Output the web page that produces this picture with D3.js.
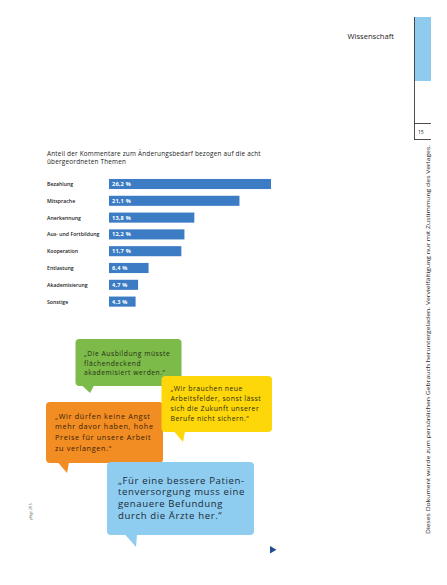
<!DOCTYPE html>
<html>
<head>
<meta charset="utf-8">
<script src="https://cdn.jsdelivr.net/npm/d3@7"></script>
<style>
  html, body { margin: 0; padding: 0; background: #fff; }
  svg { display: block; }
  text { font-family: "Open Sans", "DejaVu Sans", sans-serif; }
</style>
</head>
<body>
<script>
// ---- data ----
const categories = ["Bezahlung", "Mitsprache", "Anerkennung", "Aus- und Fortbildung", "Kooperation", "Entlastung", "Akademisierung", "Sonstige"];
const values = [26.2, 21.1, 13.8, 12.2, 11.7, 6.4, 4.7, 4.3];
const titleLines = ["Anteil der Kommentare zum Änderungsbedarf bezogen auf die acht", "übergeordneten Themen"];
const quoteGreen = ["„Die Ausbildung müsste", "flächendeckend", "akademisiert werden.“"];
const quoteYellow = ["„Wir brauchen neue", "Arbeitsfelder, sonst lässt", "sich die Zukunft unserer", "Berufe nicht sichern.“"];
const quoteOrange = ["„Wir dürfen keine Angst", "mehr davor haben, hohe", "Preise für unsere Arbeit", "zu verlangen.“"];
const quoteBlue = ["„Für eine bessere Patien-", "tenversorgung muss eine", "genauere Befundung", "durch die Ärzte her.“"];
const sectionTitle = "Wissenschaft";
const pageNumber = "15";
const sideNote = "Dieses Dokument wurde zum persönlichen Gebrauch heruntergeladen. Vervielfältigung nur mit Zustimmung des Verlages.";
const footNote = "pflege 2/15";

const W = 447, H = 585;
const svg = d3.select("body").append("svg").attr("width", W).attr("height", H);

// ---- header / page furniture ----
svg.append("rect").attr("x", 414.5).attr("y", 17).attr("width", 16.5).attr("height", 64).attr("fill", "#8fcbef");
svg.append("line").attr("x1", 414.5).attr("x2", 414.5).attr("y1", 17).attr("y2", 140).attr("stroke", "#222").attr("stroke-width", 0.8);
svg.append("line").attr("x1", 414.5).attr("x2", 431).attr("y1", 123.5).attr("y2", 123.5).attr("stroke", "#222").attr("stroke-width", 0.8);
svg.append("line").attr("x1", 414.5).attr("x2", 431).attr("y1", 139.5).attr("y2", 139.5).attr("stroke", "#222").attr("stroke-width", 0.8);
svg.append("text").attr("x", 418).attr("y", 133.5).attr("font-size", 5).attr("fill", "#222").text(pageNumber);
svg.append("text").attr("x", 394).attr("y", 39).attr("text-anchor", "end").attr("font-size", 7.6).attr("fill", "#222").text(sectionTitle);

svg.append("text").attr("transform", "translate(429.5,534) rotate(-90)")
  .attr("font-size", 5.6).attr("fill", "#222").attr("textLength", 389).attr("lengthAdjust", "spacingAndGlyphs").text(sideNote);
svg.append("text").attr("transform", "translate(32,520) rotate(-90)")
  .attr("font-size", 3.2).attr("fill", "#555").text(footNote);

// ---- title ----
svg.append("g").selectAll("text").data(titleLines).join("text")
  .attr("x", 47).attr("y", (d, i) => 155.5 + i * 8.5)
  .attr("font-size", 6.4).attr("letter-spacing", 0.2).attr("fill", "#222").text(d => d);

// ---- bar chart ----
const x = d3.scaleLinear().domain([0, 26.2]).range([109, 271]);
const y = d3.scaleBand().domain(categories).range([175.6, 310]).paddingInner(0.4).paddingOuter(0.2);
const fmt = v => d3.format(".1f")(v).replace(".", ",") + " %";

const g = svg.append("g");
g.selectAll("rect.bar").data(values).join("rect").attr("class", "bar")
  .attr("x", x(0)).attr("y", (d, i) => y(categories[i]))
  .attr("width", d => x(d) - x(0)).attr("height", y.bandwidth())
  .attr("fill", "#3b7cc4");
g.selectAll("text.val").data(values).join("text").attr("class", "val")
  .attr("x", x(0) + 3).attr("y", (d, i) => y(categories[i]) + y.bandwidth() / 2 + 2)
  .attr("font-size", 5.6).attr("font-weight", "bold").attr("letter-spacing", 0.2).attr("fill", "#fff").text(d => fmt(d));
g.selectAll("text.cat").data(categories).join("text").attr("class", "cat")
  .attr("x", 47).attr("y", d => y(d) + y.bandwidth() / 2 + 2)
  .attr("font-size", 5.2).attr("font-weight", "600").attr("fill", "#222").text(d => d);

// ---- speech bubbles ----
function bubble(b) {
  const grp = svg.append("g");
  grp.append("rect").attr("x", b.x).attr("y", b.y).attr("width", b.w).attr("height", b.h)
    .attr("rx", 4).attr("fill", b.color);
  const bot = b.y + b.h - 0.5;
  grp.append("path").attr("d", `M${b.tx},${bot} L${b.tx + b.tw},${bot} L${b.ax},${b.ay} Z`).attr("fill", b.color);
  grp.selectAll("text").data(b.lines).join("text")
    .attr("x", b.textX).attr("y", (d, i) => b.textY + i * b.lh)
    .attr("font-size", b.fs).attr("letter-spacing", b.ls).attr("fill", b.tc).text(d => d);
}
bubble({x: 75.5, y: 339, w: 106, h: 47, color: "#7cba4a", tx: 82, tw: 12, ax: 90, ay: 393,
  lines: quoteGreen, textX: 84, textY: 356, lh: 9.6, fs: 6.7, ls: 0.55, tc: "#263012"});
bubble({x: 46, y: 402, w: 117, h: 61, color: "#f28d24", tx: 58, tw: 11, ax: 67, ay: 473,
  lines: quoteOrange, textX: 55, textY: 418.5, lh: 10.8, fs: 7.3, ls: 0.65, tc: "#3a1e05"});
bubble({x: 161.5, y: 376, w: 110.5, h: 56, color: "#fdd70a", tx: 174, tw: 11, ax: 183, ay: 442,
  lines: quoteYellow, textX: 170.5, textY: 390.5, lh: 10.3, fs: 6.9, ls: 0.45, tc: "#2d2a10"});
bubble({x: 107, y: 462, w: 147, h: 73, color: "#8ecdf0", tx: 125, tw: 12, ax: 136, ay: 547,
  lines: quoteBlue, textX: 118, textY: 483.5, lh: 11.7, fs: 9.6, ls: 0.6, tc: "#1c2a38"});

// ---- arrow ----
svg.append("path").attr("d", "M270,546 L276.5,549.7 L270,553.4 Z").attr("fill", "#1f4f8f");
</script>
</body>
</html>
